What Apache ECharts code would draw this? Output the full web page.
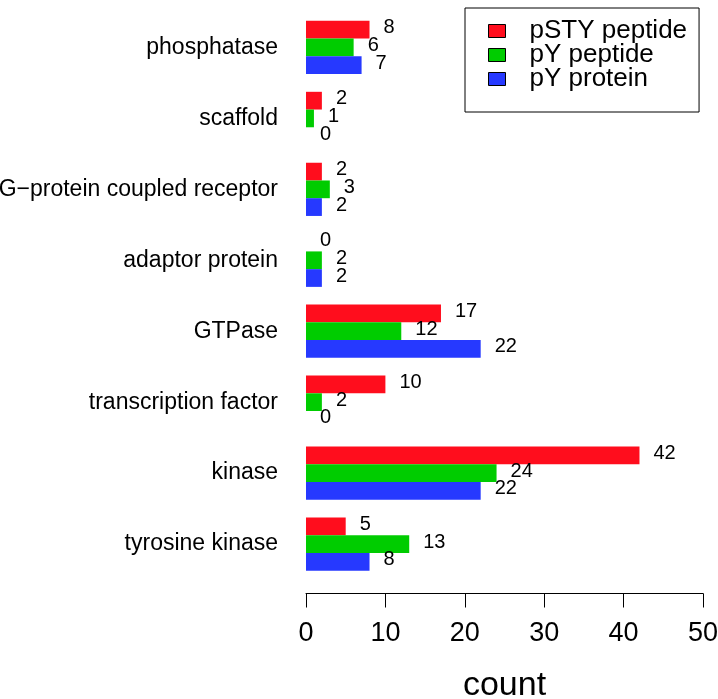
<!DOCTYPE html>
<html>
<head>
<meta charset="utf-8">
<script src="https://cdn.jsdelivr.net/npm/echarts@6/dist/echarts.min.js"></script>
<style>
  html, body { margin: 0; padding: 0; background: #fff; }
  #main { width: 718px; height: 699px; }
</style>
</head>
<body>
<div id="main"></div>
<script>
// categories bottom -> top (category axis starts at the bottom)
var categories = ['tyrosine kinase', 'kinase', 'transcription factor', 'GTPase',
  'adaptor protein', 'G\u2212protein coupled receptor', 'scaffold', 'phosphatase'];
var pstyPeptide = [5, 42, 10, 17, 0, 2, 2, 8];
var pyPeptide = [13, 24, 2, 12, 2, 3, 1, 6];
var pyProtein = [8, 22, 0, 22, 2, 2, 0, 7];
var seriesNames = ['pSTY peptide', 'pY peptide', 'pY protein'];
var colors = ['#ff0d1d', '#00cc00', '#2639ff'];
var xTicks = [0, 50, 10];

var font = 'Liberation Sans, Arial, sans-serif';
var myChart = echarts.init(document.getElementById('main'));

function makeSeries(name, data, color) {
    return {
        name: name,
        type: 'bar',
        data: data,
        barGap: '0%',
        barCategoryGap: '25%',
        itemStyle: { color: color },
        label: {
            show: true,
            position: 'right',
            distance: 14,
            offset: [0, -2],
            fontSize: 20,
            fontFamily: font,
            color: '#000'
        }
    };
}

var option = {
    animation: false,
    backgroundColor: '#fff',
    textStyle: { fontFamily: font },
    grid: { left: 306, top: 12, width: 397, height: 567.5, containLabel: false, outerBoundsMode: 'none' },
    legend: {
        orient: 'vertical',
        left: 465,
        top: 8,
        padding: [10, 12, 20, 23],
        itemGap: -2,
        itemWidth: 17,
        itemHeight: 13,
        borderColor: '#000',
        borderWidth: 1,
        icon: 'rect',
        itemStyle: { borderColor: '#000', borderWidth: 1 },
        textStyle: { fontSize: 26, fontFamily: font, color: '#000', lineHeight: 23, padding: [0, 0, 0, 19] },
        data: seriesNames
    },
    xAxis: {
        type: 'value',
        min: xTicks[0],
        max: xTicks[1],
        interval: xTicks[2],
        offset: 14,
        splitLine: { show: false },
        axisLine: { show: true, lineStyle: { color: '#000', width: 1 } },
        axisTick: { show: true, length: 14, lineStyle: { color: '#000' } },
        axisLabel: { fontSize: 27, margin: 27, color: '#000', fontFamily: font },
        name: 'count',
        nameLocation: 'middle',
        nameGap: 75,
        nameTextStyle: { fontSize: 34, color: '#000', fontFamily: font }
    },
    yAxis: {
        type: 'category',
        data: categories,
        axisLine: { show: false },
        axisTick: { show: false },
        axisLabel: { fontSize: 23, margin: 28, color: '#000', fontFamily: font }
    },
    series: [
        makeSeries(seriesNames[0], pstyPeptide, colors[0]),
        makeSeries(seriesNames[1], pyPeptide, colors[1]),
        makeSeries(seriesNames[2], pyProtein, colors[2])
    ]
};
myChart.setOption(option);
</script>
</body>
</html>
